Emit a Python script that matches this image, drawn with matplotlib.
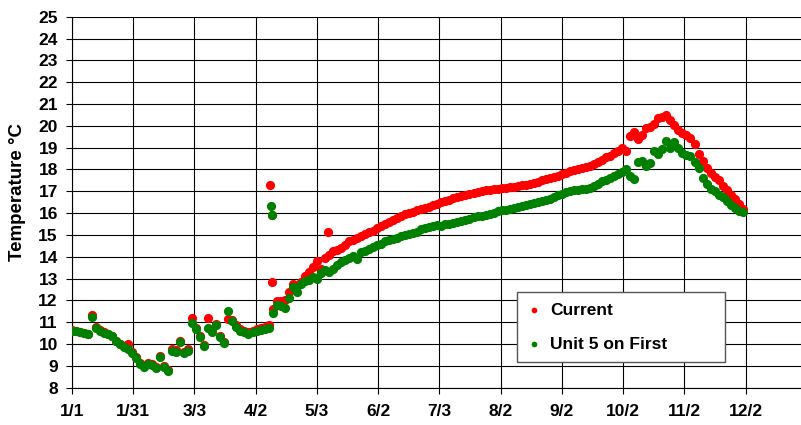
import numpy as np
import matplotlib

matplotlib.use("Agg")
import matplotlib.pyplot as plt

plt.rcParams["font.family"] = ["Liberation Sans", "DejaVu Sans"]
plt.rcParams["font.weight"] = "bold"

# days since 1/1, sampled every 2 days
current = [
    10.64, 10.60, 10.56, 10.52, 10.47, 11.35, 10.78, 10.64, 10.56, 10.48,
    10.38, 10.16, 10.02, 9.92, 10.00, 9.65, 9.40, 9.15, 9.00, 9.14,
    9.08, 8.95, 9.45, 9.00, 8.80, 9.75, 9.72, 10.15, 9.65, 9.75,
    11.20, 10.75, 10.35, 9.95, 11.20, 10.60, 10.90, 10.35, 10.10, 11.15,
    11.10, 10.85, 10.68, 10.60, 10.55, 10.60, 10.68, 10.72, 10.78, 10.85,
    11.60, 11.95, 11.95, 12.00, 12.40, 12.75, 12.65, 12.85, 13.10, 13.30,
    13.55, 13.80, 13.45, 13.95, 14.10, 14.25, 14.30, 14.40, 14.55, 14.70,
    14.75, 14.85, 14.95, 15.05, 15.15, 15.20, 15.30, 15.40, 15.50, 15.60,
    15.70, 15.78, 15.85, 15.95, 16.00, 16.05, 16.12, 16.20, 16.25, 16.30,
    16.38, 16.42, 16.50, 16.55, 16.62, 16.70, 16.75, 16.80, 16.82, 16.88,
    16.92, 16.98, 17.00, 17.05, 17.05, 17.10, 17.12, 17.15, 17.15, 17.18,
    17.20, 17.25, 17.28, 17.30, 17.35, 17.40, 17.42, 17.50, 17.55, 17.60,
    17.65, 17.70, 17.78, 17.85, 17.92, 17.98, 18.02, 18.08, 18.12, 18.18,
    18.25, 18.32, 18.45, 18.55, 18.60, 18.75, 18.85, 19.00, 18.85, 19.55,
    19.70, 19.40, 19.60, 19.90, 19.95, 20.10, 20.35, 20.40, 20.50, 20.25,
    20.05, 19.80, 19.65, 19.60, 19.45, 19.15, 18.70, 18.40, 18.05, 17.85,
    17.65, 17.50, 17.25, 17.05, 16.85, 16.65, 16.40, 16.20,
]
unit5 = [
    10.62, 10.58, 10.55, 10.50, 10.45, 11.22, 10.72, 10.60, 10.52, 10.45,
    10.35, 10.12, 9.98, 9.85, 9.75, 9.60, 9.35, 9.10, 8.95, 9.10,
    9.05, 8.90, 9.40, 8.95, 8.75, 9.70, 9.65, 10.10, 9.60, 9.70,
    10.95, 10.70, 10.30, 9.90, 10.75, 10.55, 10.85, 10.30, 10.05, 11.50,
    11.05, 10.80, 10.62, 10.55, 10.48, 10.55, 10.62, 10.65, 10.70, 10.75,
    11.40, 11.80, 11.75, 11.65, 12.10, 12.60, 12.40, 12.75, 12.90, 12.95,
    13.05, 13.00, 13.25, 13.40, 13.30, 13.45, 13.60, 13.75, 13.85, 13.95,
    14.05, 13.90, 14.20, 14.25, 14.35, 14.45, 14.55, 14.60, 14.70, 14.75,
    14.82, 14.88, 14.95, 15.00, 15.05, 15.10, 15.15, 15.25, 15.30, 15.35,
    15.40, 15.45, 15.42, 15.50, 15.48, 15.55, 15.60, 15.65, 15.70, 15.75,
    15.80, 15.85, 15.88, 15.92, 15.95, 16.00, 16.08, 16.12, 16.15, 16.20,
    16.25, 16.28, 16.32, 16.35, 16.40, 16.45, 16.50, 16.55, 16.58, 16.65,
    16.75, 16.82, 16.88, 16.95, 17.00, 17.05, 17.08, 17.10, 17.12, 17.15,
    17.25, 17.35, 17.45, 17.50, 17.60, 17.72, 17.80, 17.90, 18.00, 17.70,
    17.55, 18.35, 18.40, 18.15, 18.30, 18.85, 18.70, 18.95, 19.30, 19.00,
    19.25, 19.00, 18.75, 18.65, 18.60, 18.35, 18.05, 17.60, 17.35, 17.10,
    17.00, 16.85, 16.75, 16.55, 16.35, 16.25, 16.10, 16.05,
]
# odd readings
current_extra_days = [98.5, 99.5, 99.5, 127.4]
current_extra = [17.27, 15.90, 12.86, 15.13]
unit5_extra_days = [99.0, 99.5]
unit5_extra = [16.31, 15.93]

tick_days = [0, 30.5, 61, 91.5, 122, 152.5, 183, 213.5, 244, 274.5, 305, 335.5]
tick_labels = ["1/1", "1/31", "3/3", "4/2", "5/3", "6/2", "7/3", "8/2",
               "9/2", "10/2", "11/2", "12/2"]

cur_days = np.arange(len(current)) * 2
u5_days = np.arange(len(unit5)) * 2

fig = plt.figure(figsize=(8.01, 4.25), dpi=100)
ax = fig.add_axes([0.0895, 0.0878, 0.9105, 0.8729])

ax.scatter(np.r_[cur_days, current_extra_days], np.r_[current, current_extra],
           s=44, c="#ff0000", linewidths=0, label="Current", zorder=3)
ax.scatter(np.r_[u5_days, unit5_extra_days], np.r_[unit5, unit5_extra],
           s=44, c="#008000", linewidths=0, label="Unit 5 on First", zorder=4)

ax.set_xlim(0, 363)
ax.set_ylim(8, 25)
ax.set_xticks(tick_days)
ax.set_xticklabels(tick_labels)
ax.set_yticks(range(8, 26))
ax.grid(True, color="black", linewidth=0.8)
ax.set_axisbelow(True)
for s in ["top", "right"]:
    ax.spines[s].set_visible(False)
ax.spines["left"].set_linewidth(0.8)
ax.spines["bottom"].set_linewidth(0.8)
ax.tick_params(axis="both", labelsize=12.5, length=4, width=0.8)
ax.tick_params(axis="x", pad=8)
ax.tick_params(axis="y", pad=6)

ax.set_ylabel("Temperature °C", fontsize=13.5, fontweight="bold")
ax.yaxis.set_label_coords(-0.062, 0.527)

leg = fig.legend(loc="upper left", bbox_to_anchor=(0.6454, 0.1365, 0.2597, 0.1765),
                 mode="expand", borderaxespad=0, fontsize=12.5, markerscale=0.62,
                 scatterpoints=1, handlelength=0.8, handletextpad=0.5,
                 labelspacing=1.1, borderpad=0.6, fancybox=False, framealpha=1)
leg.get_frame().set_edgecolor("#555555")
leg.get_frame().set_linewidth(1)

fig.savefig("out.png", dpi=100)
